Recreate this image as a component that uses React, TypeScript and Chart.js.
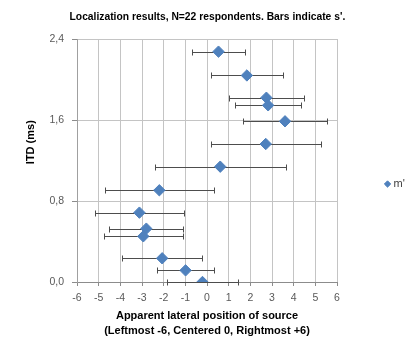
import React, { useEffect, useRef } from 'react';
import { Chart, registerables } from 'chart.js';

Chart.register(...registerables);

// ---- data ----
const seriesLabel = "m'";
const itdValues = [2.275, 2.04, 1.82, 1.745, 1.587, 1.363, 1.139, 0.906, 0.685, 0.527, 0.451, 0.234, 0.115, 0.0];
const positionValues = [0.53, 1.84, 2.74, 2.82, 3.6, 2.71, 0.61, -2.2, -3.12, -2.8, -2.94, -2.07, -0.99, -0.21];
const sPrimeValues = [1.21, 1.67, 1.73, 1.51, 1.95, 2.54, 3.02, 2.5, 2.04, 1.71, 1.81, 1.85, 1.32, 1.65];
const yTickLabels = ['0,0', '0,8', '1,6', '2,4'];
const titleText = "Localization results, N=22 respondents. Bars indicate s'.";
const xTitleLines = ['Apparent lateral position of source', '(Leftmost -6, Centered 0, Rightmost +6)'];
const yTitleText = 'ITD (ms)';

const FONT = "'Liberation Sans', Arial, sans-serif";
// leading spaces move the centred, rotated y title a little towards the top, as in the reference
const Y_TITLE_SHIFT = '            ';

const errorBarPlugin = {
  id: 'errorBars',
  beforeDatasetsDraw(chart: any) {
    const { ctx } = chart;
    const xs = chart.scales.x;
    const ys = chart.scales.y;
    ctx.save();
    ctx.strokeStyle = '#4d4d4d';
    ctx.lineWidth = 1;
    positionValues.forEach((m, i) => {
      const yy = Math.round(ys.getPixelForValue(itdValues[i])) + 0.5;
      const x1 = Math.round(xs.getPixelForValue(m - sPrimeValues[i])) + 0.5;
      const x2 = Math.round(xs.getPixelForValue(m + sPrimeValues[i])) + 0.5;
      ctx.beginPath();
      ctx.moveTo(x1, yy);
      ctx.lineTo(x2, yy);
      ctx.moveTo(x1, yy - 3);
      ctx.lineTo(x1, yy + 3);
      ctx.moveTo(x2, yy - 3);
      ctx.lineTo(x2, yy + 3);
      ctx.stroke();
    });
    ctx.restore();
  },
};

export default function App() {
  const canvasRef = useRef<HTMLCanvasElement | null>(null);

  useEffect(() => {
    if (!canvasRef.current) return;
    const chart = new Chart(canvasRef.current, {
      type: 'scatter',
      data: {
        datasets: [
          {
            label: seriesLabel,
            data: positionValues.map((x, i) => ({ x, y: itdValues[i] })),
            pointStyle: 'rectRot',
            pointRadius: 5.7,
            pointHoverRadius: 5.7,
            backgroundColor: '#4F81BD',
            borderColor: '#4F81BD',
            borderWidth: 1,
          },
        ],
      },
      options: {
        responsive: false,
        animation: false,
        devicePixelRatio: 1,
        layout: { padding: { left: 0, right: 4.2, top: 0, bottom: 0 } },
        plugins: {
          tooltip: { enabled: false },
          title: {
            display: true,
            text: titleText,
            color: '#000',
            font: { family: FONT, size: 10.3, weight: 'bold', lineHeight: 1.2 },
            padding: { top: 11, bottom: 15.64 },
          },
          legend: {
            display: true,
            position: 'right',
            align: 'center',
            title: {
              display: true,
              text: ' ',
              font: { family: FONT, size: 10, lineHeight: 1.2 },
              padding: { top: 14, bottom: 0 },
            },
            labels: {
              usePointStyle: true,
              boxWidth: 1,
              boxHeight: 4.5,
              padding: 50,
              color: '#404040',
              font: { family: FONT, size: 11 },
            },
          },
        },
        scales: {
          x: {
            type: 'linear',
            min: -6,
            max: 6,
            afterFit: (scale: any) => {
              scale.height = 60;
            },
            ticks: {
              stepSize: 1,
              color: '#595959',
              padding: 6,
              font: { family: FONT, size: 10.5 },
            },
            grid: {
              color: '#c4c4c4',
              tickColor: '#8c8c8c',
              tickLength: 4,
              lineWidth: 1,
            },
            border: { color: '#8c8c8c' },
            title: {
              display: true,
              text: xTitleLines,
              color: '#000',
              font: { family: FONT, size: 11, weight: 'bold', lineHeight: '15px' },
              padding: { top: 0, bottom: 3.5 },
            },
          },
          y: {
            type: 'linear',
            min: 0,
            max: 2.4,
            afterFit: (scale: any) => {
              scale.width = 77;
            },
            ticks: {
              stepSize: 0.8,
              color: '#595959',
              padding: 8,
              font: { family: FONT, size: 10.5 },
              callback: (_v: any, index: number) => yTickLabels[index],
            },
            grid: {
              color: '#c4c4c4',
              tickColor: '#8c8c8c',
              tickLength: 5,
              lineWidth: 1,
            },
            border: { color: '#a0a0a0' },
            title: {
              display: true,
              text: Y_TITLE_SHIFT + yTitleText,
              color: '#000',
              font: { family: FONT, size: 11, weight: 'bold', lineHeight: 1.2 },
              padding: { top: 24.4, bottom: 0 },
            },
          },
        },
      },
      plugins: [errorBarPlugin],
    });
    return () => chart.destroy();
  }, []);

  return (
    <div style={{ position: 'fixed', left: 0, top: 0, width: 419, height: 342, background: '#fff' }}>
      <canvas ref={canvasRef} width={419} height={342} style={{ display: 'block' }} />
    </div>
  );
}
